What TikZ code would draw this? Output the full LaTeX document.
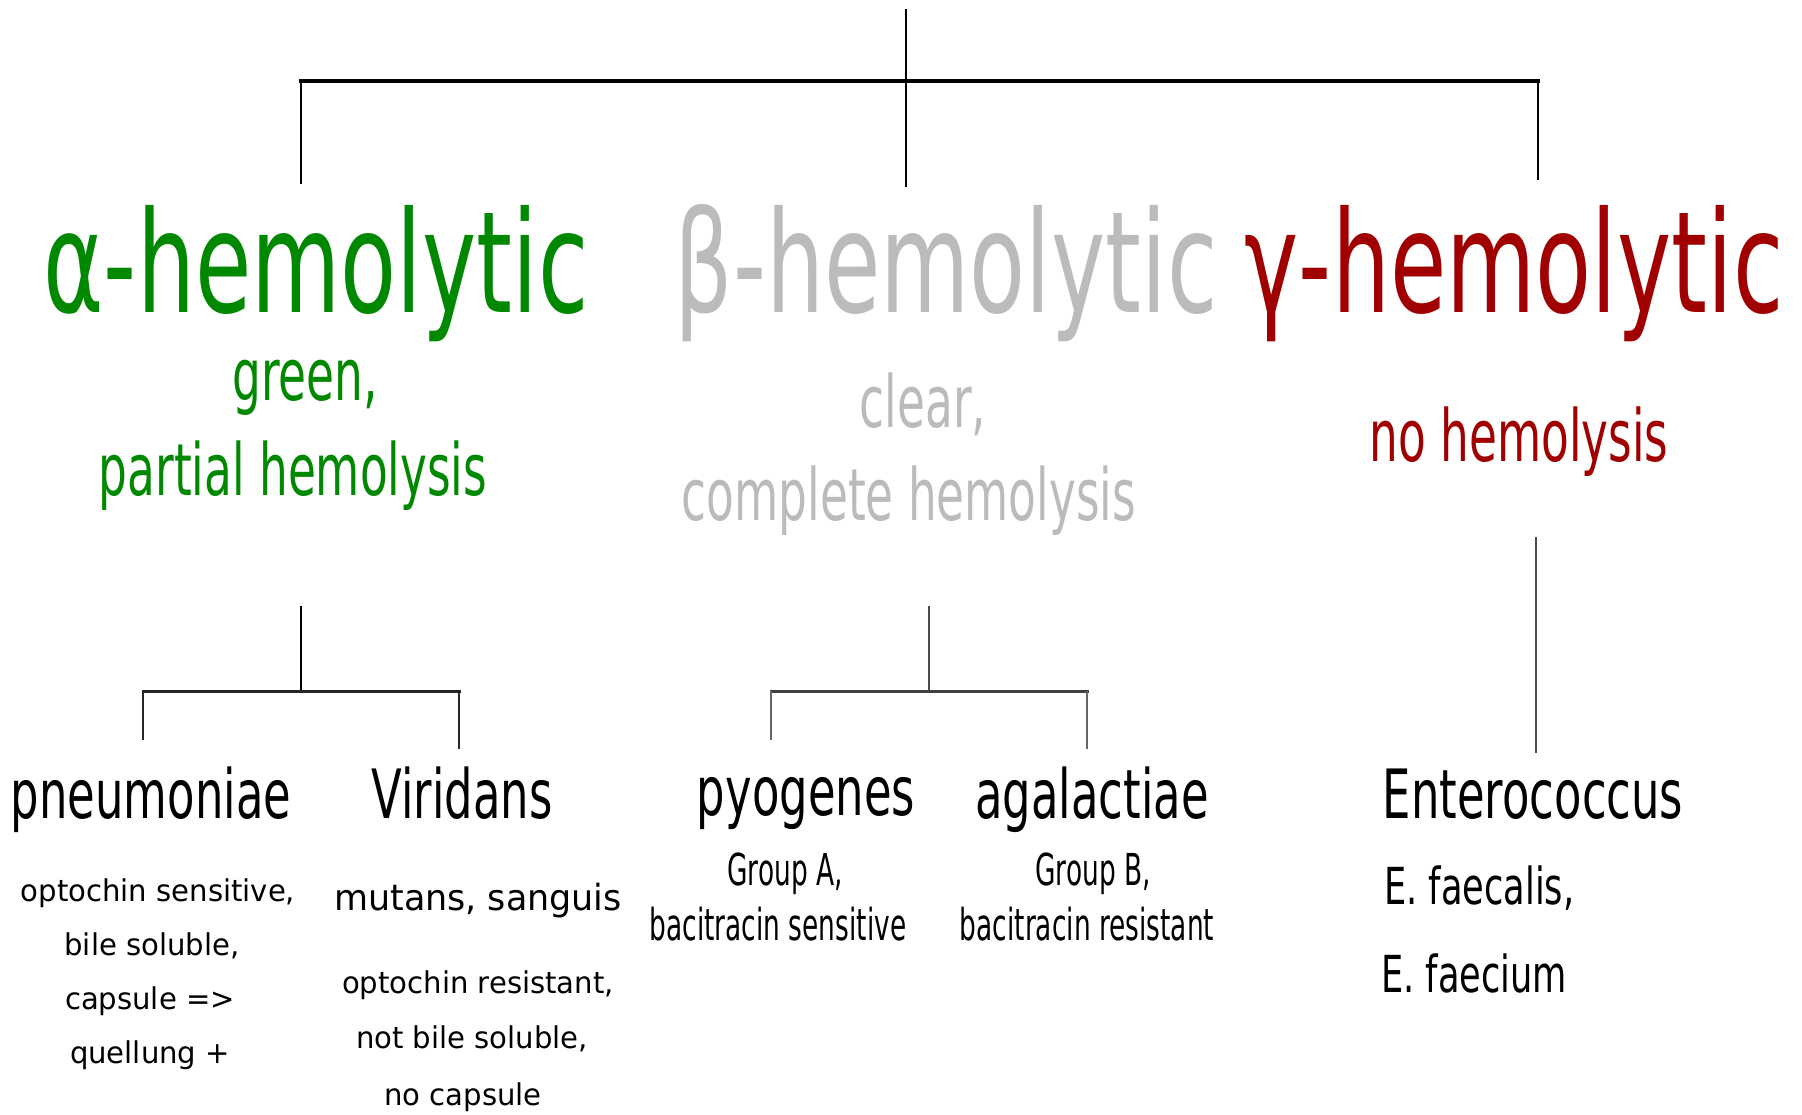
\documentclass[tikz,border=0pt]{standalone}
\usepackage{fontspec}
\newfontfamily\veratitle[FakeStretch=0.65]{DejaVu Sans}
\newfontfamily\veranote[FakeStretch=0.63]{DejaVu Sans}
\newfontfamily\veraspecies[FakeStretch=0.66]{DejaVu Sans}
\newfontfamily\veragroup[FakeStretch=0.6]{DejaVu Sans}
\newfontfamily\veracase[FakeStretch=0.69]{DejaVu Sans}
\newfontfamily\veradetail[FakeStretch=0.97]{DejaVu Sans}
\usepackage{tikz}
\usetikzlibrary{positioning}
\definecolor{alphagreen}{HTML}{008800}
\definecolor{betagrey}{HTML}{BBBBBB}
\definecolor{gammared}{HTML}{A00000}
\tikzset{
  every picture/.style = {
    x = 1pt,
    y = -1pt
  }
  , % big headers
  header/.style = {
    anchor = base,
    inner sep = 0pt,
    font = \veratitle\fontsize{141}{141}\selectfont
  }
  , % colour of the hemolysis
  hnote/.style = {
    anchor = base,
    inner sep = 0pt,
    font = \veranote\fontsize{72}{72}\selectfont
  }
  , % species names
  species/.style = {
    anchor = base,
    inner sep = 0pt,
    font = \veraspecies\fontsize{68}{68}\selectfont
  }
  , % text under the species
  detail/.style = {
    anchor = base,
    inner sep = 0pt,
    font = \veradetail\fontsize{30}{30}\selectfont
  }
  ,
  grouptext/.style = {
    anchor = base,
    inner sep = 0pt,
    font = \veragroup\fontsize{44}{44}\selectfont
  }
  ,
  casetext/.style = {
    anchor = base west,
    inner sep = 0pt,
    font = \veracase\fontsize{51}{51}\selectfont
  }
  ,
  stem/.style = {
    line width = 2pt
  }
  ,
  bar/.style = {
    line width = 4pt,
    line cap = rect
  }
}

\begin{document}
\begin{tikzpicture}
  \useasboundingbox (0,0) rectangle (1802,1114);

  % headers
  \node [header, text = alphagreen] (alpha) at (316,312) {α-hemolytic};
  \node [header, text = betagrey] (beta) at (946,312) {β-hemolytic};
  \node [header, text = gammared] (gamma) at (1514,312) {γ-hemolytic};

  \node [hnote, text = alphagreen] (green) at (305,400) {green,};
  \node [hnote, text = alphagreen] (partial) at (293,495) {partial hemolysis};
  \node [hnote, text = betagrey] (clear) at (923,427) {clear,};
  \node [hnote, text = betagrey] (complete) at (909,520) {complete hemolysis};
  \node [hnote, text = gammared] (nohemo) at (1519,461) {no hemolysis};

  % species
  \node [species] (pneu) at (151,818) {pneumoniae};
  \node [species] (viri) at (462,818) {Viridans};
  \node [species] (pyog) at (806,815) {pyogenes};
  \node [species] (agal) at (1092,818) {agalactiae};
  \node [species] (entero) at (1533,818) {Enterococcus};

  \node [detail] (pneu1) at (158,901) {optochin sensitive,};
  \node [detail] (pneu2) at (152,955) {bile soluble,};
  \node [detail] (pneu3) at (150,1009) {capsule =>};
  \node [detail] (pneu4) at (150,1063) {quellung +};

  \node [detail, font = \veradetail\fontsize{36}{36}\selectfont] (viri0) at (478,910) {mutans, sanguis};
  \node [detail] (viri1) at (478,993) {optochin resistant,};
  \node [detail] (viri2) at (472,1048) {not bile soluble,};
  \node [detail] (viri3) at (463,1105) {no capsule};

  \node [grouptext] (pyog1) at (785,885) {Group A,};
  \node [grouptext] (pyog2) at (778,940) {bacitracin sensitive};
  \node [grouptext] (agal1) at (1093,885) {Group B,};
  \node [grouptext] (agal2) at (1087,940) {bacitracin resistant};

  \node [casetext] (faecalis) at (1384,904) {E. faecalis,};
  \node [casetext] (faecium) at (1381,992) {E. faecium};

  % upper tree
  \coordinate (root) at (906,9);
  \coordinate (alpha-top) at (301,81);
  \coordinate (gamma-top) at (1538,81);
  \coordinate (alpha-in) at (301,184);
  \coordinate (beta-in) at (906,187);
  \coordinate (gamma-in) at (1538,180);
  \draw [bar] (alpha-top) -- (gamma-top);
  \draw [stem] (root) -- (beta-in);
  \draw [stem] (alpha-top) -- (alpha-in);
  \draw [stem] (gamma-top) -- (gamma-in);

  % alpha branch
  \coordinate (alpha-out) at (301,606);
  \coordinate (alpha-fork) at (301,691);
  \coordinate (pneu-top) at (143,691);
  \coordinate (viri-top) at (459,691);
  \coordinate (pneu-in) at (143,740);
  \coordinate (viri-in) at (459,749);
  \draw [stem] (alpha-out) -- (alpha-fork);
  \draw [bar, line width = 3pt, black!85] (pneu-top) -- (viri-top);
  \draw [stem, black!85] (pneu-top) -- (pneu-in);
  \draw [stem, black!85] (viri-top) -- (viri-in);

  % beta branch
  \coordinate (beta-out) at (929,606);
  \coordinate (beta-fork) at (929,691);
  \coordinate (pyog-top) at (771,691);
  \coordinate (agal-top) at (1087,691);
  \coordinate (pyog-in) at (771,740);
  \coordinate (agal-in) at (1087,749);
  \draw [stem, black!70] (beta-out) -- (beta-fork);
  \draw [bar, line width = 3pt, black!75] (pyog-top) -- (agal-top);
  \draw [stem, black!60] (pyog-top) -- (pyog-in);
  \draw [stem, black!60] (agal-top) -- (agal-in);

  % gamma branch
  \coordinate (gamma-out) at (1536,537);
  \coordinate (entero-in) at (1536,753);
  \draw [stem, black!70] (gamma-out) -- (entero-in);
\end{tikzpicture}
\end{document}
